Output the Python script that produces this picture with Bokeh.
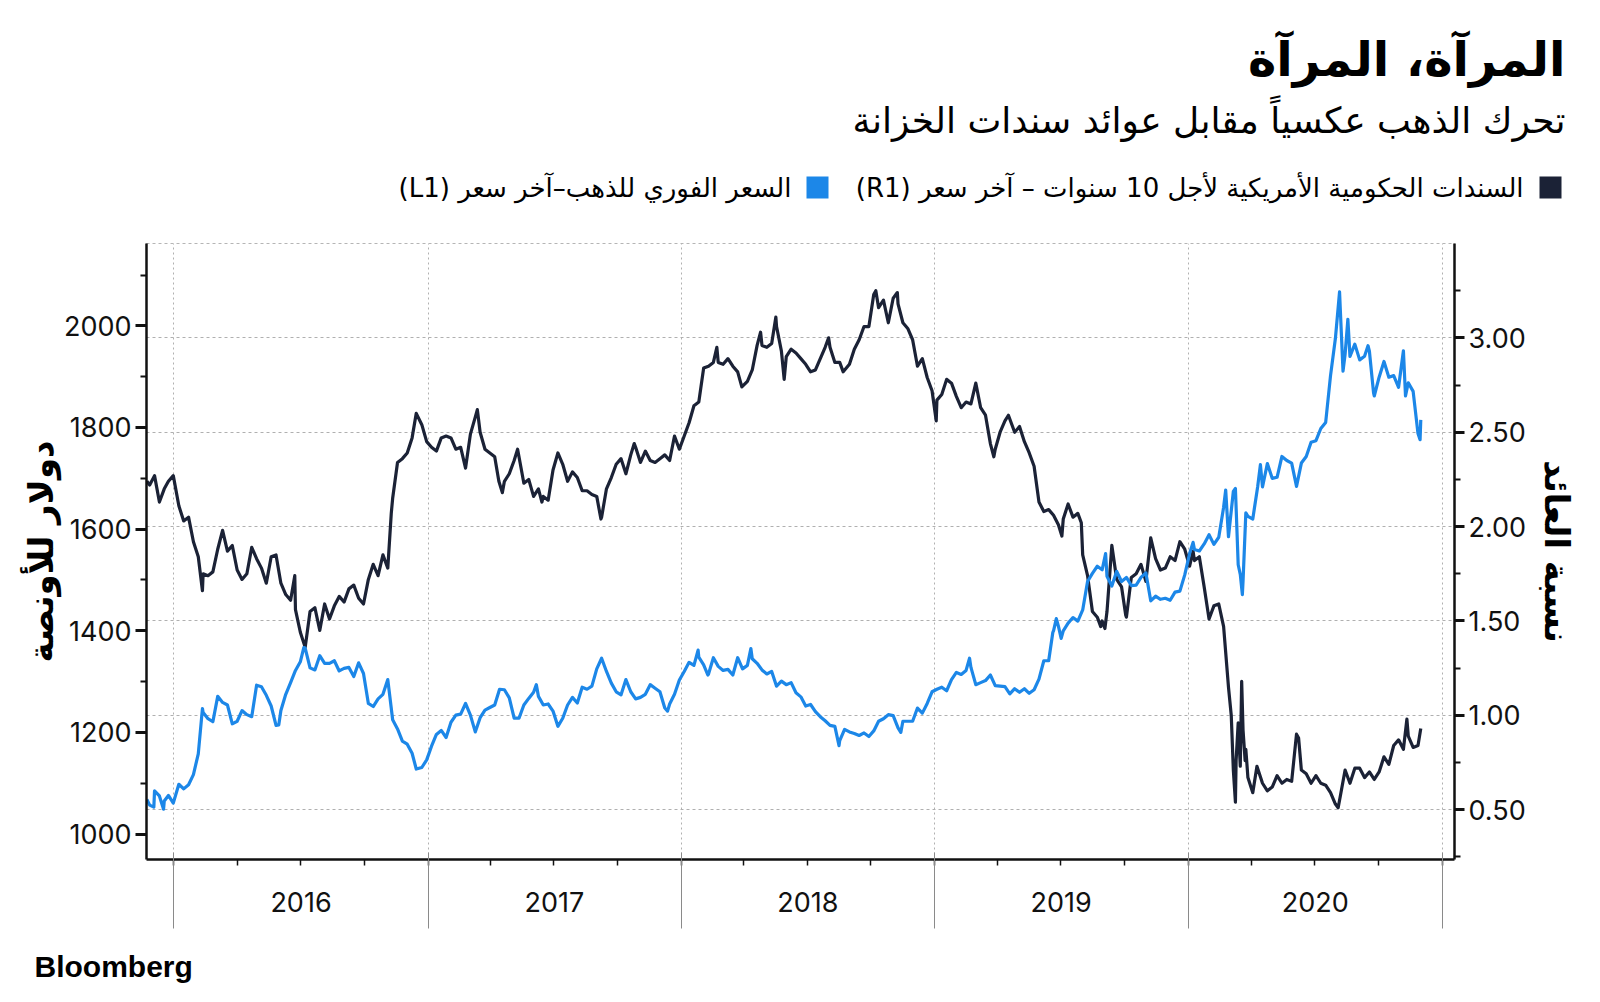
from datetime import datetime
import pandas as pd
from bokeh.plotting import figure
from bokeh.layouts import column
from bokeh.models import (Range1d, LinearAxis, DatetimeAxis, FixedTicker, NumeralTickFormatter,
                          CustomJSTickFormatter, ColumnDataSource)
from bokeh.core.properties import value
from bokeh.embed import file_html
from bokeh.resources import INLINE

# ---------------- data ----------------
gold_dates = [
    "2015-11-23", "2015-11-27", "2015-12-03", "2015-12-04", "2015-12-11", "2015-12-17", "2015-12-18", "2015-12-24", "2015-12-31",
    "2016-01-08", "2016-01-15", "2016-01-22", "2016-01-29", "2016-02-05", "2016-02-11", "2016-02-12", "2016-02-19", "2016-02-26",
    "2016-03-04", "2016-03-11", "2016-03-18", "2016-03-25", "2016-04-01", "2016-04-08", "2016-04-15", "2016-04-22", "2016-04-29",
    "2016-05-06", "2016-05-13", "2016-05-20", "2016-05-27", "2016-05-31", "2016-06-03", "2016-06-10", "2016-06-17", "2016-06-24",
    "2016-07-01", "2016-07-06", "2016-07-08", "2016-07-15", "2016-07-22", "2016-07-29", "2016-08-05", "2016-08-12", "2016-08-19",
    "2016-08-26", "2016-09-02", "2016-09-09", "2016-09-16", "2016-09-23", "2016-09-30", "2016-10-07", "2016-10-14", "2016-10-21",
    "2016-10-28", "2016-11-04", "2016-11-11", "2016-11-18", "2016-11-25", "2016-12-02", "2016-12-09", "2016-12-15", "2016-12-23",
    "2016-12-30",
    "2017-01-06", "2017-01-13", "2017-01-20", "2017-01-27", "2017-02-03", "2017-02-10", "2017-02-17", "2017-02-24", "2017-03-03",
    "2017-03-10", "2017-03-17", "2017-03-24", "2017-03-31", "2017-04-07", "2017-04-14", "2017-04-21", "2017-04-28", "2017-05-05",
    "2017-05-12", "2017-05-19", "2017-05-26", "2017-06-02", "2017-06-06", "2017-06-09", "2017-06-16", "2017-06-23", "2017-06-30",
    "2017-07-07", "2017-07-14", "2017-07-21", "2017-07-28", "2017-08-04", "2017-08-11", "2017-08-18", "2017-08-25", "2017-09-01",
    "2017-09-08", "2017-09-15", "2017-09-22", "2017-09-29", "2017-10-06", "2017-10-13", "2017-10-20", "2017-10-27", "2017-11-03",
    "2017-11-10", "2017-11-17", "2017-11-24", "2017-12-01", "2017-12-08", "2017-12-12", "2017-12-15", "2017-12-22", "2017-12-29",
    "2018-01-05", "2018-01-12", "2018-01-19", "2018-01-25", "2018-01-26", "2018-02-02", "2018-02-08", "2018-02-09", "2018-02-16",
    "2018-02-23", "2018-03-02", "2018-03-09", "2018-03-16", "2018-03-23", "2018-03-30", "2018-04-06", "2018-04-11", "2018-04-13",
    "2018-04-20", "2018-04-27", "2018-05-04", "2018-05-11", "2018-05-18", "2018-05-25", "2018-06-01", "2018-06-08", "2018-06-15",
    "2018-06-22", "2018-06-29", "2018-07-06", "2018-07-13", "2018-07-20", "2018-07-27", "2018-08-03", "2018-08-10", "2018-08-16",
    "2018-08-17", "2018-08-24", "2018-08-31", "2018-09-07", "2018-09-14", "2018-09-21", "2018-09-28", "2018-10-05", "2018-10-12",
    "2018-10-19", "2018-10-26", "2018-11-02", "2018-11-09", "2018-11-13", "2018-11-16", "2018-11-23", "2018-11-30", "2018-12-07",
    "2018-12-14", "2018-12-21", "2018-12-28",
    "2019-01-04", "2019-01-11", "2019-01-18", "2019-01-25", "2019-02-01", "2019-02-08", "2019-02-15", "2019-02-20", "2019-02-22",
    "2019-03-01", "2019-03-08", "2019-03-15", "2019-03-22", "2019-03-29", "2019-04-05", "2019-04-12", "2019-04-19", "2019-04-26",
    "2019-05-03", "2019-05-10", "2019-05-17", "2019-05-24", "2019-05-31", "2019-06-07", "2019-06-14", "2019-06-20", "2019-06-21",
    "2019-06-25", "2019-06-28", "2019-07-02", "2019-07-05", "2019-07-12", "2019-07-19", "2019-07-26", "2019-08-02", "2019-08-09",
    "2019-08-16", "2019-08-23", "2019-08-30", "2019-09-04", "2019-09-06", "2019-09-13", "2019-09-20", "2019-09-27", "2019-10-04",
    "2019-10-11", "2019-10-18", "2019-10-25", "2019-11-01", "2019-11-08", "2019-11-15", "2019-11-22", "2019-11-29", "2019-12-06",
    "2019-12-13", "2019-12-20", "2019-12-27",
    "2020-01-03", "2020-01-08", "2020-01-10", "2020-01-17", "2020-01-24", "2020-01-31", "2020-02-07", "2020-02-14", "2020-02-21",
    "2020-02-24", "2020-02-28", "2020-03-06", "2020-03-09", "2020-03-13", "2020-03-16", "2020-03-19", "2020-03-20", "2020-03-24",
    "2020-03-27", "2020-04-03", "2020-04-10", "2020-04-14", "2020-04-17", "2020-04-24", "2020-05-01", "2020-05-08", "2020-05-15",
    "2020-05-22", "2020-05-29", "2020-06-05", "2020-06-12", "2020-06-19", "2020-06-26", "2020-07-03", "2020-07-10", "2020-07-17",
    "2020-07-24", "2020-07-31", "2020-08-06", "2020-08-07", "2020-08-11", "2020-08-14", "2020-08-18", "2020-08-21", "2020-08-28",
    "2020-09-04", "2020-09-11", "2020-09-16", "2020-09-18", "2020-09-24", "2020-09-25", "2020-10-02", "2020-10-09", "2020-10-16",
    "2020-10-23", "2020-10-30", "2020-11-06", "2020-11-09", "2020-11-13", "2020-11-20", "2020-11-27", "2020-11-30", "2020-12-01",
]
gold_values = [
    1068, 1057, 1053, 1085, 1075, 1049, 1065, 1076, 1061,
    1098, 1089, 1097, 1117, 1158, 1247, 1239, 1227, 1221,
    1271, 1259, 1254, 1217, 1222, 1243, 1235, 1231, 1293,
    1290, 1273, 1252, 1214, 1215, 1243, 1275, 1298, 1322,
    1339, 1367, 1366, 1327, 1323, 1351, 1336, 1336, 1341,
    1321, 1326, 1328, 1310, 1337, 1316, 1257, 1251, 1266,
    1275, 1304, 1225, 1207, 1183, 1177, 1159, 1128, 1131,
    1146,
    1173, 1196, 1204, 1190, 1220, 1234, 1236, 1257, 1234,
    1201, 1229, 1244, 1249, 1254, 1285, 1284, 1268, 1228,
    1228, 1254, 1267, 1279, 1294, 1271, 1254, 1256, 1242,
    1212, 1228, 1254, 1269, 1258, 1289, 1285, 1291, 1325,
    1346, 1320, 1297, 1280, 1274, 1304, 1280, 1266, 1269,
    1275, 1294, 1287, 1280, 1248, 1242, 1256, 1275, 1303,
    1320, 1338, 1332, 1362, 1348, 1333, 1313, 1315, 1347,
    1330, 1322, 1324, 1313, 1347, 1325, 1332, 1365, 1345,
    1336, 1323, 1315, 1320, 1291, 1301, 1294, 1298, 1278,
    1270, 1252, 1255, 1241, 1231, 1223, 1214, 1212, 1174,
    1184, 1206, 1201, 1198, 1194, 1199, 1192, 1203, 1222,
    1227, 1235, 1233, 1209, 1200, 1222, 1222, 1222, 1248,
    1238, 1257, 1280,
    1285, 1289, 1282, 1304, 1318, 1314, 1322, 1346, 1328,
    1294, 1298, 1302, 1313, 1292, 1291, 1290, 1276, 1286,
    1279, 1286, 1277, 1284, 1305, 1341, 1341, 1397, 1400,
    1424, 1409, 1385, 1400, 1415, 1426, 1419, 1441, 1497,
    1513, 1527, 1520, 1552, 1507, 1488, 1517, 1497, 1505,
    1489, 1490, 1505, 1514, 1459, 1468, 1462, 1464, 1460,
    1476, 1478, 1510,
    1552, 1574, 1560, 1557, 1571, 1589, 1570, 1584, 1643,
    1677, 1585, 1674, 1680, 1530, 1511, 1471, 1498, 1632,
    1625, 1620, 1683, 1727, 1683, 1729, 1700, 1702, 1743,
    1735, 1730, 1684, 1730, 1743, 1771, 1774, 1798, 1810,
    1902, 1975, 2067, 2035, 1911, 1944, 2013, 1940, 1964,
    1933, 1940, 1961, 1950, 1868, 1862, 1899, 1930, 1899,
    1902, 1879, 1951, 1862, 1888, 1871, 1788, 1776, 1815,
]

yield_dates = [
    "2015-11-23", "2015-11-27", "2015-12-04", "2015-12-11", "2015-12-18", "2015-12-24", "2015-12-31",
    "2016-01-08", "2016-01-15", "2016-01-22", "2016-01-29", "2016-02-05", "2016-02-11", "2016-02-12", "2016-02-19", "2016-02-26",
    "2016-03-04", "2016-03-11", "2016-03-18", "2016-03-25", "2016-04-01", "2016-04-08", "2016-04-15", "2016-04-22", "2016-04-29",
    "2016-05-06", "2016-05-13", "2016-05-20", "2016-05-27", "2016-06-03", "2016-06-10", "2016-06-17", "2016-06-23", "2016-06-24",
    "2016-07-01", "2016-07-08", "2016-07-15", "2016-07-22", "2016-07-29", "2016-08-05", "2016-08-12", "2016-08-19", "2016-08-26",
    "2016-09-02", "2016-09-09", "2016-09-16", "2016-09-23", "2016-09-30", "2016-10-07", "2016-10-14", "2016-10-21", "2016-10-28",
    "2016-11-04", "2016-11-09", "2016-11-11", "2016-11-18", "2016-11-25", "2016-12-02", "2016-12-09", "2016-12-15", "2016-12-23",
    "2016-12-30",
    "2017-01-06", "2017-01-13", "2017-01-20", "2017-01-27", "2017-02-03", "2017-02-10", "2017-02-17", "2017-02-24", "2017-03-03",
    "2017-03-10", "2017-03-13", "2017-03-17", "2017-03-24", "2017-03-31", "2017-04-07", "2017-04-13", "2017-04-18", "2017-04-21",
    "2017-04-28", "2017-05-05", "2017-05-10", "2017-05-19", "2017-05-26", "2017-06-02", "2017-06-09", "2017-06-14", "2017-06-16",
    "2017-06-23", "2017-06-30", "2017-07-07", "2017-07-14", "2017-07-21", "2017-07-28", "2017-08-04", "2017-08-11", "2017-08-18",
    "2017-08-25", "2017-09-01", "2017-09-07", "2017-09-08", "2017-09-15", "2017-09-22", "2017-09-29", "2017-10-06", "2017-10-13",
    "2017-10-20", "2017-10-25", "2017-10-27", "2017-11-03", "2017-11-10", "2017-11-17", "2017-11-24", "2017-12-01", "2017-12-08",
    "2017-12-15", "2017-12-22", "2017-12-29",
    "2018-01-05", "2018-01-12", "2018-01-19", "2018-01-26", "2018-02-02", "2018-02-09", "2018-02-16", "2018-02-21", "2018-02-23",
    "2018-03-02", "2018-03-09", "2018-03-16", "2018-03-23", "2018-03-29", "2018-04-06", "2018-04-13", "2018-04-20", "2018-04-25",
    "2018-04-27", "2018-05-04", "2018-05-11", "2018-05-17", "2018-05-18", "2018-05-25", "2018-05-29", "2018-06-01", "2018-06-08",
    "2018-06-15", "2018-06-22", "2018-06-29", "2018-07-06", "2018-07-13", "2018-07-20", "2018-07-27", "2018-08-01", "2018-08-03",
    "2018-08-10", "2018-08-17", "2018-08-22", "2018-08-31", "2018-09-07", "2018-09-14", "2018-09-21", "2018-09-28", "2018-10-05",
    "2018-10-08", "2018-10-12", "2018-10-19", "2018-10-26", "2018-11-02", "2018-11-08", "2018-11-09", "2018-11-16", "2018-11-23",
    "2018-11-30", "2018-12-07", "2018-12-14", "2018-12-21", "2018-12-28",
    "2019-01-03", "2019-01-04", "2019-01-11", "2019-01-18", "2019-01-25", "2019-02-01", "2019-02-08", "2019-02-15", "2019-02-22",
    "2019-03-01", "2019-03-08", "2019-03-15", "2019-03-22", "2019-03-27", "2019-03-29", "2019-04-05", "2019-04-12", "2019-04-17",
    "2019-04-26", "2019-05-03", "2019-05-10", "2019-05-17", "2019-05-24", "2019-05-31", "2019-06-07", "2019-06-14", "2019-06-21",
    "2019-06-28", "2019-07-03", "2019-07-05", "2019-07-12", "2019-07-19", "2019-07-26", "2019-07-31", "2019-08-02", "2019-08-09",
    "2019-08-16", "2019-08-23", "2019-08-28", "2019-08-30", "2019-09-03", "2019-09-06", "2019-09-13", "2019-09-20", "2019-09-27",
    "2019-10-03", "2019-10-04", "2019-10-11", "2019-10-18", "2019-10-25", "2019-11-01", "2019-11-08", "2019-11-15", "2019-11-22",
    "2019-11-29", "2019-12-06", "2019-12-13", "2019-12-20", "2019-12-27",
    "2020-01-03", "2020-01-08", "2020-01-10", "2020-01-17", "2020-01-24", "2020-01-31", "2020-02-07", "2020-02-14", "2020-02-21",
    "2020-02-28", "2020-03-03", "2020-03-06", "2020-03-09", "2020-03-10", "2020-03-13", "2020-03-16", "2020-03-18", "2020-03-20",
    "2020-03-23", "2020-03-24", "2020-03-27", "2020-04-03", "2020-04-09", "2020-04-17", "2020-04-24", "2020-05-01", "2020-05-08",
    "2020-05-15", "2020-05-22", "2020-05-29", "2020-06-05", "2020-06-08", "2020-06-12", "2020-06-19", "2020-06-26", "2020-07-03",
    "2020-07-10", "2020-07-17", "2020-07-24", "2020-07-31", "2020-08-04", "2020-08-07", "2020-08-14", "2020-08-21", "2020-08-28",
    "2020-09-04", "2020-09-11", "2020-09-18", "2020-09-25", "2020-10-02", "2020-10-09", "2020-10-16", "2020-10-23", "2020-10-30",
    "2020-11-06", "2020-11-11", "2020-11-13", "2020-11-20", "2020-11-27", "2020-12-01",
]
yield_values = [
    2.24, 2.22, 2.27, 2.13, 2.20, 2.24, 2.27,
    2.11, 2.03, 2.05, 1.92, 1.84, 1.66, 1.75, 1.74, 1.76,
    1.88, 1.98, 1.87, 1.90, 1.77, 1.72, 1.75, 1.89, 1.83,
    1.78, 1.70, 1.84, 1.85, 1.70, 1.64, 1.61, 1.74, 1.56,
    1.44, 1.36, 1.55, 1.57, 1.45, 1.59, 1.51, 1.58, 1.63,
    1.60, 1.67, 1.69, 1.62, 1.59, 1.72, 1.80, 1.74, 1.85,
    1.78, 2.07, 2.15, 2.34, 2.36, 2.39, 2.47, 2.60, 2.54,
    2.45,
    2.42, 2.40, 2.47, 2.48, 2.47, 2.41, 2.42, 2.31, 2.49,
    2.58, 2.62, 2.50, 2.41, 2.39, 2.37, 2.24, 2.18, 2.24,
    2.28, 2.35, 2.41, 2.23, 2.25, 2.16, 2.20, 2.13, 2.16,
    2.14, 2.30, 2.39, 2.33, 2.24, 2.29, 2.26, 2.19, 2.19,
    2.17, 2.16, 2.04, 2.05, 2.20, 2.26, 2.33, 2.36, 2.28,
    2.38, 2.44, 2.42, 2.34, 2.40, 2.35, 2.34, 2.36, 2.38,
    2.35, 2.48, 2.41,
    2.48, 2.55, 2.64, 2.66, 2.84, 2.85, 2.87, 2.95, 2.87,
    2.86, 2.89, 2.85, 2.82, 2.74, 2.77, 2.83, 2.96, 3.03,
    2.96, 2.95, 2.97, 3.11, 3.06, 2.93, 2.78, 2.90, 2.94,
    2.92, 2.89, 2.86, 2.82, 2.83, 2.89, 2.95, 3.00, 2.95,
    2.87, 2.87, 2.82, 2.86, 2.94, 2.99, 3.06, 3.06, 3.23,
    3.25, 3.16, 3.20, 3.08, 3.21, 3.24, 3.18, 3.08, 3.05,
    2.99, 2.85, 2.89, 2.79, 2.72,
    2.56, 2.67, 2.70, 2.78, 2.76, 2.69, 2.63, 2.66, 2.65,
    2.76, 2.63, 2.59, 2.44, 2.37, 2.41, 2.50, 2.56, 2.59,
    2.50, 2.53, 2.45, 2.39, 2.32, 2.13, 2.08, 2.09, 2.06,
    2.01, 1.95, 2.04, 2.12, 2.05, 2.07, 2.02, 1.85, 1.74,
    1.55, 1.52, 1.47, 1.50, 1.46, 1.55, 1.90, 1.72, 1.68,
    1.53, 1.52, 1.73, 1.75, 1.80, 1.71, 1.94, 1.83, 1.77,
    1.78, 1.84, 1.82, 1.92, 1.88,
    1.79, 1.87, 1.82, 1.84, 1.68, 1.51, 1.58, 1.59, 1.47,
    1.15, 1.00, 0.71, 0.54, 0.76, 0.96, 0.73, 1.18, 0.92,
    0.76, 0.82, 0.67, 0.59, 0.73, 0.64, 0.60, 0.62, 0.68,
    0.64, 0.66, 0.65, 0.90, 0.88, 0.71, 0.69, 0.64, 0.68,
    0.64, 0.63, 0.59, 0.53, 0.51, 0.57, 0.71, 0.64, 0.72,
    0.72, 0.67, 0.70, 0.66, 0.70, 0.78, 0.74, 0.84, 0.87,
    0.82, 0.98, 0.89, 0.83, 0.84, 0.93,
]

year_labels = ["2016", "2017", "2018", "2019", "2020"]
year_starts = ["2016-01-01", "2017-01-01", "2018-01-01", "2019-01-01", "2020-01-01", "2021-01-01"]
left_ticks = [1000, 1200, 1400, 1600, 1800, 2000]
left_minor = [1100, 1300, 1500, 1700, 1900, 2100]
right_ticks = [0.5, 1.0, 1.5, 2.0, 2.5, 3.0]
right_minor = [0.25, 0.75, 1.25, 1.75, 2.25, 2.75, 3.25]

title_text = "المرآة، المرآة"
subtitle_text = "تحرك الذهب عكسياً مقابل عوائد سندات الخزانة"
RLE, PDF = "\u202B", "\u202C"
legend_labels = [RLE + "السندات الحكومية الأمريكية لأجل 10 سنوات – آخر سعر (R1)" + PDF,
                 RLE + "السعر الفوري للذهب–آخر سعر (L1)" + PDF]
left_label = "دولار للأونصة"
right_label = "نسبة العائد"
logo_text = "Bloomberg"

# ---------------- styling ----------------
NAVY = "#1b2236"
BLUE = "#1c87e8"
AR_FONT = "DejaVu Sans"
NUM_FONT = "Inter"
W = 1600
HEAD_H = 243           # page y of plot frame top
MAIN_H = 707           # main figure height (frame bottom at 859)
FOOT_H = 50


def ms(s):
    return pd.Timestamp(s).value // 10**6


def bare(fig):
    fig.outline_line_color = None
    fig.grid.visible = False
    fig.min_border_left = fig.min_border_right = fig.min_border_top = fig.min_border_bottom = 0
    fig.frame_align = False
    return fig


# ---------------- header (title, subtitle, legend) ----------------
head = bare(figure(width=W, height=HEAD_H, output_backend="svg", toolbar_location=None,
                   x_range=Range1d(0, W), y_range=Range1d(HEAD_H, 0),
                   x_axis_type=None, y_axis_type=None))
head.text(x=[1565], y=[58], text=[title_text], text_align="right", text_baseline="alphabetic",
          text_font=value(AR_FONT), text_font_style="bold", text_font_size="48px", text_color="#000000")
head.text(x=[1565], y=[120], text=[subtitle_text], text_align="right", text_baseline="alphabetic",
          text_font=value(AR_FONT), text_font_size="36px", text_color="#000000")
head.rect(x=[1550, 817], y=[187, 187], width=22, height=22, fill_color=[NAVY, BLUE], line_color=None)
head.text(x=[1523, 791], y=[187, 187], text=legend_labels, text_align="right", text_baseline="middle",
          text_font=value(AR_FONT), text_font_size="26px", text_color="#000000")

# ---------------- main chart ----------------
p = figure(width=W, height=MAIN_H, output_backend="svg", toolbar_location=None,
           x_axis_type="datetime", y_axis_location="right",
           x_range=Range1d(datetime(2015, 11, 22, 10), datetime(2021, 1, 18, 14)),
           y_range=Range1d(0.236, 3.50),
           min_border_left=146, min_border_right=146, min_border_top=0, min_border_bottom=MAIN_H - (859 - HEAD_H))
p.frame_align = False
p.extra_y_ranges = {"gold": Range1d(950, 2162)}
p.outline_line_color = "#b5b5b5"
p.outline_line_dash = "3 3"
p.outline_line_width = 1

year_ticks = [ms(s) for s in year_starts]
mid_ticks = [ms(f"{y}-07-02") for y in year_labels]
quarter_ticks = [ms(f"{y}-{m:02d}-01") for y in range(2016, 2021) for m in (1, 4, 7, 10)] + [ms("2021-01-01")]

# axis A: year labels + quarter ticks + axis line
xa = p.xaxis[0]
xa.ticker = FixedTicker(ticks=mid_ticks, minor_ticks=quarter_ticks)
xa.formatter = CustomJSTickFormatter(code="return String(new Date(tick).getUTCFullYear());")
xa.axis_line_color = "#111111"
xa.axis_line_width = 2.5
xa.major_tick_out = 0
xa.major_tick_in = 0
xa.minor_tick_out = 6
xa.minor_tick_in = 0
xa.minor_tick_line_color = "#111111"
xa.minor_tick_line_width = 1.5
xa.major_label_text_font = NUM_FONT
xa.major_label_text_font_size = "27px"
xa.major_label_text_color = "#111111"
xa.major_label_standoff = 26

# axis B: long year-boundary separators
yt = FixedTicker(ticks=year_ticks, minor_ticks=[])
xb = DatetimeAxis(ticker=yt, formatter=CustomJSTickFormatter(code="return '';"))
xb.axis_line_color = None
xb.major_tick_in = 62
xb.major_tick_out = 14
xb.major_tick_line_color = "#8a8a8a"
xb.major_tick_line_width = 1
xb.minor_tick_line_color = None
xb.major_label_standoff = 0
p.add_layout(xb, "below")

p.xgrid.ticker = yt
p.xgrid.grid_line_color = "#b0b0b0"
p.xgrid.grid_line_dash = "2 3"
p.xgrid.grid_line_width = 1

# right axis (yield)
rt = FixedTicker(ticks=right_ticks, minor_ticks=right_minor)
ra = p.yaxis[0]
ra.ticker = rt
ra.formatter = NumeralTickFormatter(format="0.00")
ra.axis_line_color = "#111111"
ra.axis_line_width = 2.5
ra.major_tick_out = 10
ra.major_tick_in = 0
ra.major_tick_line_width = 3
ra.major_tick_line_color = "#111111"
ra.minor_tick_out = 6
ra.minor_tick_in = 0
ra.minor_tick_line_width = 2
ra.minor_tick_line_color = "#111111"
ra.major_label_text_font = NUM_FONT
ra.major_label_text_font_size = "27px"
ra.major_label_text_color = "#111111"
ra.major_label_standoff = 4
ra.axis_label = right_label
ra.axis_label_text_font = AR_FONT
ra.axis_label_text_font_style = "bold"
ra.axis_label_text_font_size = "34px"
ra.axis_label_text_color = "#000000"
ra.axis_label_standoff = 8
p.ygrid.ticker = rt
p.ygrid.grid_line_color = "#b0b0b0"
p.ygrid.grid_line_dash = "3 3"
p.ygrid.grid_line_width = 1

# left axis (gold)
la = LinearAxis(y_range_name="gold", ticker=FixedTicker(ticks=left_ticks, minor_ticks=left_minor))
la.axis_line_color = "#111111"
la.axis_line_width = 2.5
la.major_tick_out = 11
la.major_tick_in = 0
la.major_tick_line_width = 3
la.major_tick_line_color = "#111111"
la.minor_tick_out = 6
la.minor_tick_in = 0
la.minor_tick_line_width = 2
la.minor_tick_line_color = "#111111"
la.major_label_text_font = NUM_FONT
la.major_label_text_font_size = "27px"
la.major_label_text_color = "#111111"
la.major_label_standoff = 4
la.axis_label = left_label
la.axis_label_text_font = AR_FONT
la.axis_label_text_font_style = "bold"
la.axis_label_text_font_size = "34px"
la.axis_label_text_color = "#000000"
la.axis_label_standoff = 0
p.add_layout(la, "left")

ysrc = ColumnDataSource(dict(x=pd.to_datetime(yield_dates), y=yield_values))
gsrc = ColumnDataSource(dict(x=pd.to_datetime(gold_dates), y=gold_values))
p.line("x", "y", source=ysrc, line_color=NAVY, line_width=3.2, line_join="round")
p.line("x", "y", source=gsrc, line_color=BLUE, line_width=3.2, line_join="round", y_range_name="gold")

# ---------------- footer (logo) ----------------
foot = bare(figure(width=W, height=FOOT_H, output_backend="svg", toolbar_location=None,
                   x_range=Range1d(0, W), y_range=Range1d(FOOT_H, 0),
                   x_axis_type=None, y_axis_type=None))
foot.text(x=[34], y=[16], text=[logo_text], text_align="left", text_baseline="alphabetic",
          text_font=value("Liberation Sans"), text_font_style="bold", text_font_size="30px",
          text_color="#000000")

layout = column(head, p, foot, spacing=0)
open("out.html", "w").write(file_html(layout, INLINE))
